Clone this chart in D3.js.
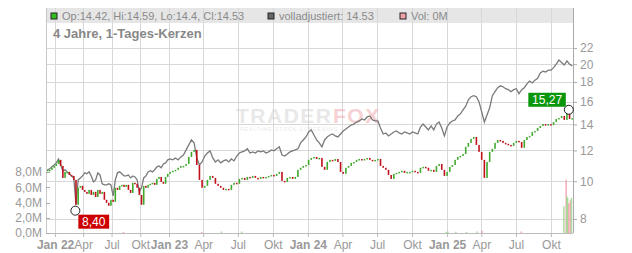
<!DOCTYPE html>
<html>
<head>
<meta charset="utf-8">
<script src="https://cdn.jsdelivr.net/npm/d3@7"></script>
<style>
  body { margin: 0; background: #fff; }
  svg { display: block; font-family: "Liberation Sans", Arial, sans-serif; }
</style>
</head>
<body>
<div id="chart"></div>
<script>
// weekly closes (one per Monday, Dec 2021 .. Nov 2025)
const close2021 = [10.70, 10.70, 10.83, 10.95];
const close2022 = [11.08, 11.35, 10.95, 10.20, 10.57, 10.57, 10.38, 10.32, 10.08, 8.70,
  9.62, 9.73, 9.50, 9.39, 9.28, 9.50, 9.22, 9.39, 9.11, 9.50,
  9.28, 9.39, 8.96, 8.80, 8.65, 8.96, 8.85, 9.62, 9.50, 9.73,
  9.79, 9.67, 9.79, 9.50, 9.33, 9.91, 9.85, 9.62, 9.22, 8.70,
  9.73, 9.62, 9.79, 9.85, 9.91, 9.79, 10.14, 10.26, 9.96, 9.85,
  10.26, 10.45];
const close2023 = [10.57, 10.64, 10.70, 10.83, 10.95, 10.95, 11.08, 11.55, 11.90, 12.04,
  11.01, 10.08, 9.62, 9.73, 10.08, 10.32, 10.20, 9.85, 9.73, 9.62,
  9.50, 9.56, 9.50, 9.79, 9.91, 9.85, 10.14, 10.20, 10.08, 10.26,
  10.20, 10.32, 10.20, 10.14, 10.26, 10.20, 10.26, 10.32, 10.38, 10.32,
  10.45, 10.57, 10.02, 9.96, 10.20, 10.26, 10.14, 10.26, 10.70, 10.83,
  10.95, 11.01];
const close2024 = [11.35, 11.48, 11.55, 11.41, 11.48, 10.89, 10.70, 11.21, 11.35, 11.28,
  11.41, 11.21, 10.57, 10.45, 10.83, 10.95, 11.15, 11.21, 11.35, 11.41,
  11.35, 11.41, 11.48, 11.35, 11.28, 11.35, 11.41, 10.95, 10.83, 10.70,
  10.38, 10.14, 10.45, 10.51, 10.57, 10.64, 10.51, 10.57, 10.57, 10.64,
  10.57, 10.51, 10.83, 10.89, 10.83, 10.64, 10.70, 10.57, 10.95, 11.08,
  10.70, 10.32, 10.57];
const close2025 = [10.89, 11.01, 11.35, 11.55, 11.62, 11.75, 12.26, 12.55, 12.85, 13.00,
  12.40, 11.90, 11.35, 10.20, 11.21, 11.90, 12.12, 12.55, 12.77, 12.70,
  12.55, 12.48, 12.40, 12.33, 12.55, 12.70, 12.62, 12.19, 12.77, 13.00,
  13.08, 13.39, 13.47, 13.71, 13.87, 14.03, 13.95, 14.03, 13.95, 14.20,
  14.46, 14.55, 14.72, 14.38, 14.90, 14.46, 14.53];

// "volladjustiert" line, same weeks
const adj2021 = [10.70, 10.77, 10.89, 11.01];
const adj2022 = [11.15, 11.41, 11.01, 10.64, 10.70, 10.57, 10.45, 10.32, 10.20, 8.70,
  10.08, 10.20, 10.32, 10.51, 10.45, 10.57, 10.32, 9.96, 10.08, 10.51,
  10.38, 9.85, 9.79, 9.79, 9.85, 9.79, 9.17, 10.08, 10.51, 10.57,
  10.45, 10.32, 10.32, 10.38, 10.20, 10.32, 10.26, 10.08, 9.39, 9.62,
  10.20, 10.32, 10.57, 10.64, 10.57, 10.70, 10.89, 10.95, 10.83, 11.08,
  11.15, 11.35];
const adj2023 = [11.41, 11.35, 11.48, 11.35, 11.55, 11.68, 12.04, 12.40, 12.77, 12.55,
  11.48, 11.01, 11.21, 11.61, 11.82, 11.97, 11.48, 11.21, 11.35, 11.15,
  11.28, 11.35, 11.21, 11.41, 11.28, 11.61, 11.82, 11.90, 11.97, 12.12,
  11.82, 11.90, 11.82, 11.97, 11.90, 11.97, 11.82, 11.90, 12.04, 11.97,
  12.12, 12.26, 11.68, 11.61, 11.75, 11.90, 11.97, 12.04, 12.12, 12.55,
  12.77, 13.00];
const adj2024 = [13.39, 13.55, 13.15, 12.77, 12.55, 12.26, 12.77, 13.00, 13.15, 13.23,
  13.08, 13.00, 13.23, 13.47, 13.63, 13.79, 13.95, 14.03, 14.20, 14.29,
  14.46, 14.38, 14.64, 14.72, 14.38, 14.29, 14.29, 13.71, 13.23, 13.31,
  13.08, 13.23, 13.39, 13.47, 13.31, 13.23, 13.39, 13.31, 13.23, 13.39,
  13.31, 13.23, 13.79, 14.03, 13.79, 13.55, 13.87, 13.55, 14.03, 14.20,
  13.71, 13.08, 13.79];
const adj2025 = [14.12, 14.29, 14.38, 14.72, 14.90, 15.26, 15.6, 16.2, 16.5, 16.6,
  16.5, 16.0, 15.08, 14.2, 14.81, 15.45, 16.6, 17.0, 17.4, 17.6,
  17.5, 17.3, 17.2, 17.0, 17.2, 17.3, 16.8, 17.2, 17.4, 17.8,
  18.1, 17.9, 18.2, 18.4, 19.0, 19.2, 19.1, 19.3, 19.3, 19.6,
  20.0, 20.5, 20.2, 19.9, 20.4, 20.0, 19.8];

// volume (only a few days carry any)
const volDates = ['2022-08-08', '2023-03-28', '2023-05-19', '2023-07-11', '2024-12-30',
  '2025-01-03', '2025-01-24', '2025-02-21', '2025-03-21', '2025-04-03', '2025-07-15',
  '2025-11-04', '2025-11-10', '2025-11-12', '2025-11-14', '2025-11-17', '2025-11-21', '2025-11-24'];
const volValues = [0.15, 0.15, 0.2, 0.2, 0.15, 0.2, 0.15, 0.15, 0.2, 0.3, 0.2,
  3.5, 7.0, 4.8, 4.6, 3.9, 4.3, 4.6];
const volUp = [false, false, true, true, true, true, true, true, true, false, false,
  true, false, true, true, false, false, true];

const markLow = { date: '2022-03-07', value: 8.40, label: '8,40' };
const markHigh = { date: '2025-11-17', value: 15.27, label: '15,27' };

const priceTicks = [8, 10, 12, 14, 16, 18, 20, 22];
const volTicks = [0, 2, 4, 6, 8];
const monthNames = { 0: 'Jan', 3: 'Apr', 6: 'Jul', 9: 'Okt' };

const W = 632, H = 253;
const plot = { left: 46, right: 573, top: 8, bottom: 233 };

const parse = d3.timeParse('%Y-%m-%d');
const weeks = d3.timeMonday.range(new Date(2021, 11, 6), new Date(2025, 10, 25));
const closes = [].concat(close2021, close2022, close2023, close2024, close2025);
const adjs = [].concat(adj2021, adj2022, adj2023, adj2024, adj2025);
const bars = weeks.map((d, i) => ({
  date: d3.timeDay.offset(d, 2),
  open: i === 0 ? closes[0] : closes[i - 1],
  close: closes[i],
  adj: adjs[i]
})).filter(d => d.close !== undefined);

const vols = volDates.map((d, i) => ({ date: parse(d), v: volValues[i] * 1e6, up: volUp[i] }));

// 2022 is squeezed on the original axis, hence the piecewise time scale
const x = d3.scaleTime()
  .domain([new Date(2021, 11, 3), new Date(2023, 0, 1), new Date(2025, 10, 28)])
  .range([plot.left, 169, plot.right]);
const y = d3.scaleLog().domain([7.36, 27.9]).range([plot.bottom, plot.top]);
const yVol = d3.scaleLinear().domain([0, 8e6]).range([plot.bottom, 172]);

const svg = d3.select('#chart').append('svg').attr('width', W).attr('height', H);

svg.append('defs').append('clipPath').attr('id', 'clip')
  .append('rect')
  .attr('x', plot.left).attr('y', plot.top)
  .attr('width', plot.right - plot.left).attr('height', plot.bottom - plot.top);

// header band
svg.append('rect')
  .attr('x', plot.left).attr('y', plot.top)
  .attr('width', plot.right - plot.left).attr('height', 15)
  .attr('fill', '#e6e6e6');

// grid
const xTicks = d3.timeMonth.every(3).range(new Date(2022, 0, 1), new Date(2025, 10, 2));
svg.append('g').selectAll('line').data(xTicks).join('line')
  .attr('x1', d => Math.round(x(d)) + 0.5).attr('x2', d => Math.round(x(d)) + 0.5)
  .attr('y1', plot.top).attr('y2', plot.bottom)
  .attr('stroke', '#d8d8d8');
svg.append('g').selectAll('line').data(priceTicks).join('line')
  .attr('x1', plot.left).attr('x2', plot.right)
  .attr('y1', d => Math.round(y(d)) + 0.5).attr('y2', d => Math.round(y(d)) + 0.5)
  .attr('stroke', '#d8d8d8');

// watermark
const wm = svg.append('g').attr('opacity', 0.55);
wm.append('text').attr('x', 236).attr('y', 123)
  .attr('font-size', 21).attr('font-weight', 'bold').attr('letter-spacing', 1.5)
  .attr('fill', '#d6d6d6').text('TRADER');
wm.append('text').attr('x', 333).attr('y', 123)
  .attr('font-size', 21).attr('font-weight', 'bold').attr('letter-spacing', 1.5)
  .attr('fill', '#f2aab2').text('FOX');
wm.append('text').attr('x', 240).attr('y', 131)
  .attr('font-size', 5).attr('letter-spacing', 1)
  .attr('fill', '#d6d6d6').text('REALTIME STOCK SCREENING');

const g = svg.append('g').attr('clip-path', 'url(#clip)');

// volume bars
g.selectAll('.vol').data(vols).join('rect')
  .attr('class', 'vol')
  .attr('x', d => x(d.date) - 0.75).attr('width', 1.5)
  .attr('y', d => yVol(d.v)).attr('height', d => plot.bottom - yVol(d.v))
  .attr('fill', d => d.up ? '#9fd890' : '#f0a0aa')
  .attr('opacity', 0.85);

// adjusted line
g.append('path').datum(bars)
  .attr('fill', 'none').attr('stroke', '#7a7a7a').attr('stroke-width', 1.3)
  .attr('d', d3.line().x(d => x(d.date)).y(d => y(d.adj)));

// candles
g.selectAll('.candle').data(bars).join('rect')
  .attr('class', 'candle')
  .attr('x', d => x(d.date) - 0.8).attr('width', 1.6)
  .attr('y', d => y(Math.max(d.open, d.close)))
  .attr('height', d => Math.max(1.5, Math.abs(y(d.open) - y(d.close))))
  .attr('fill', d => d.close >= d.open ? '#3fa92c' : '#c0111b');

// axes lines
svg.append('line').attr('x1', plot.left + 0.5).attr('x2', plot.left + 0.5)
  .attr('y1', plot.top).attr('y2', plot.bottom).attr('stroke', '#c8c8c8');
svg.append('line').attr('x1', plot.right + 0.5).attr('x2', plot.right + 0.5)
  .attr('y1', plot.top).attr('y2', plot.bottom).attr('stroke', '#aaa');
svg.append('line').attr('x1', plot.left).attr('x2', plot.right)
  .attr('y1', plot.bottom + 0.5).attr('y2', plot.bottom + 0.5).attr('stroke', '#bbb');

// right price axis
const yAxis = d3.axisRight(y).tickValues(priceTicks).tickSize(4).tickPadding(3)
  .tickFormat(d3.format('d'));
svg.append('g').attr('transform', `translate(${plot.right},0)`).call(yAxis)
  .call(a => a.select('.domain').remove())
  .call(a => a.selectAll('line').attr('stroke', '#aaa'))
  .call(a => a.selectAll('text').attr('fill', '#999').attr('font-size', 12)
    .attr('font-family', '"Liberation Sans", Arial, sans-serif'));

// left volume axis
const vAxis = d3.axisLeft(yVol).tickValues(volTicks.map(v => v * 1e6)).tickSize(0).tickPadding(4)
  .tickFormat(d => (d / 1e6).toFixed(1).replace('.', ',') + 'M');
svg.append('g').attr('transform', `translate(${plot.left},0)`).call(vAxis)
  .call(a => a.select('.domain').remove())
  .call(a => a.selectAll('text').attr('fill', '#999').attr('font-size', 12)
    .attr('font-family', '"Liberation Sans", Arial, sans-serif'));
svg.append('g').selectAll('line').data(volTicks).join('line')
  .attr('x1', plot.left).attr('x2', plot.left + 4)
  .attr('y1', d => Math.round(yVol(d * 1e6)) + 0.5).attr('y2', d => Math.round(yVol(d * 1e6)) + 0.5)
  .attr('stroke', '#aaa');

// bottom time axis
const xAxis = d3.axisBottom(x).tickValues(xTicks).tickSize(4).tickPadding(3)
  .tickFormat(d => d.getMonth() === 0
    ? monthNames[0] + ' ' + d3.timeFormat('%y')(d)
    : monthNames[d.getMonth()]);
svg.append('g').attr('transform', `translate(0,${plot.bottom})`).call(xAxis)
  .call(a => a.select('.domain').remove())
  .call(a => a.selectAll('line').attr('stroke', '#bbb'))
  .call(a => a.selectAll('text').attr('fill', '#999').attr('font-size', 12)
    .attr('font-family', '"Liberation Sans", Arial, sans-serif')
    .attr('font-weight', d => d.getMonth() === 0 ? 'bold' : 'normal'));

// min / max markers
function marker(m, color, place) {
  const cx = x(parse(m.date)), cy = y(m.value);
  svg.append('circle').attr('cx', cx).attr('cy', cy).attr('r', 4.5)
    .attr('fill', 'none').attr('stroke', '#222').attr('stroke-width', 1);
  const w = m.label.length * 6.7 + 4, h = 14;
  const bx = place === 'below' ? cx + 3 : cx - 3 - w;
  const by = place === 'below' ? cy + 4 : cy - 3 - h;
  svg.append('rect').attr('x', bx).attr('y', by).attr('width', w).attr('height', h)
    .attr('fill', color);
  svg.append('text').attr('x', bx + w / 2).attr('y', by + 11)
    .attr('text-anchor', 'middle').attr('font-size', 12).attr('fill', '#fff')
    .text(m.label);
}
marker(markLow, '#cc0000', 'below');
marker(markHigh, '#0a960a', 'above');

// header legend
const legend = [
  { x: 51, color: '#33bb22', text: 'Op:14.42, Hi:14.59, Lo:14.4, Cl:14.53' },
  { x: 268, color: '#666', text: 'volladjustiert: 14.53' },
  { x: 400, color: '#f0a0aa', text: 'Vol: 0M' }
];
const lg = svg.append('g').selectAll('g').data(legend).join('g')
  .attr('transform', d => `translate(${d.x},13)`);
lg.append('rect').attr('width', 6).attr('height', 6)
  .attr('fill', d => d.color).attr('stroke', '#222').attr('stroke-width', 1);
lg.append('text').attr('x', 11).attr('y', 7)
  .attr('font-size', 11).attr('fill', '#8a8a8a').text(d => d.text);

svg.append('text').attr('x', 53).attr('y', 38)
  .attr('font-size', 13).attr('font-weight', 'bold').attr('fill', '#888')
  .text('4 Jahre, 1-Tages-Kerzen');
</script>
</body>
</html>
